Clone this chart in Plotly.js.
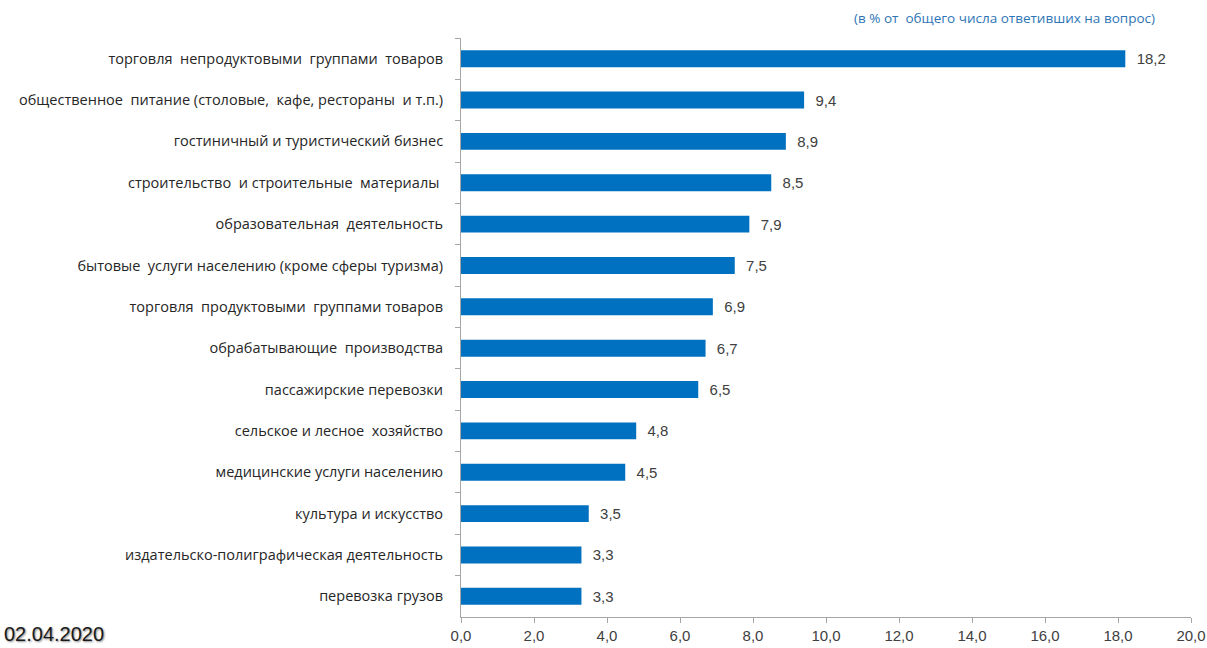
<!DOCTYPE html>
<html>
<head>
<meta charset="utf-8">
<script src="https://cdn.plot.ly/plotly-3.0.1.min.js"></script>
<style>html,body{margin:0;padding:0;background:#fff;}#chart{width:1207px;height:648px;}</style>
</head>
<body>
<div id="chart"></div>
<script>
const categories = [
  "торговля  непродуктовыми  группами  товаров",
  "общественное  питание (столовые,  кафе, рестораны  и т.п.)",
  "гостиничный и туристический бизнес",
  "строительство  и строительные  материалы ",
  "образовательная  деятельность",
  "бытовые  услуги населению (кроме сферы туризма)",
  "торговля  продуктовыми  группами товаров",
  "обрабатывающие  производства",
  "пассажирские перевозки",
  "сельское и лесное  хозяйство",
  "медицинские услуги населению",
  "культура и искусство",
  "издательско-полиграфическая деятельность",
  "перевозка грузов"
];
const values = [18.2, 9.4, 8.9, 8.5, 7.9, 7.5, 6.9, 6.7, 6.5, 4.8, 4.5, 3.5, 3.3, 3.3];
const tickVals = [0, 2, 4, 6, 8, 10, 12, 14, 16, 18, 20];
const tickText = ["0,0", "2,0", "4,0", "6,0", "8,0", "10,0", "12,0", "14,0", "16,0", "18,0", "20,0"];
const noteText = "(в % от  общего числа ответивших на вопрос)";
const dateText = "02.04.2020";

const fontFam = "Liberation Sans Narrow, Liberation Sans, Arial, sans-serif";
const labels = values.map(v => '  ' + v.toFixed(1).replace('.', ','));

const trace = {
  type: 'bar',
  orientation: 'h',
  y: categories,
  x: values,
  text: labels,
  textposition: 'outside',
  cliponaxis: false,
  textfont: {family: fontFam, size: 15, color: '#404040'},
  marker: {color: '#0070C0', line: {width: 0}},
  hoverinfo: 'skip'
};

const layout = {
  width: 1207, height: 648,
  margin: {l: 461, r: 16, t: 38, b: 31},
  paper_bgcolor: '#fff', plot_bgcolor: '#fff',
  showlegend: false,
  bargap: 0.59,
  font: {family: fontFam, color: '#404040'},
  xaxis: {
    range: [0, 20], tickvals: tickVals, ticktext: tickText,
    showgrid: false, zeroline: false,
    showline: true, linecolor: '#a6a6a6', linewidth: 1,
    ticks: 'outside', ticklen: 5, tickcolor: '#a6a6a6',
    ticklabeloverflow: 'allow',
    tickfont: {family: fontFam, size: 15, color: '#404040'}
  },
  yaxis: {
    autorange: 'reversed', type: 'category',
    showgrid: false, zeroline: false,
    showline: true, linecolor: '#a6a6a6', linewidth: 1,
    ticks: 'outside', ticklen: 5, tickcolor: '#a6a6a6',
    tickson: 'boundaries',
    ticklabelstandoff: 14,
    tickfont: {family: "Open Sans, sans-serif", size: 14.5, color: '#262626'}
  },
  annotations: [
    {text: noteText, xref: 'paper', yref: 'paper', x: 0.953, y: 1.0, yshift: 20, xanchor: 'right', yanchor: 'middle',
     showarrow: false, font: {family: "Open Sans, sans-serif", size: 13.5, color: '#2E75B6'}},
    {text: dateText, xref: 'paper', yref: 'paper', x: 0, xshift: -459, y: 0, yshift: -17, xanchor: 'left', yanchor: 'middle',
     showarrow: false, font: {family: "Liberation Sans Narrow, Arial, sans-serif", size: 20, color: '#1a1a1a', shadow: '1px 1px 2px #888'}}
  ]
};

Plotly.newPlot('chart', [trace], layout, {displayModeBar: false, staticPlot: true});
</script>
</body>
</html>
